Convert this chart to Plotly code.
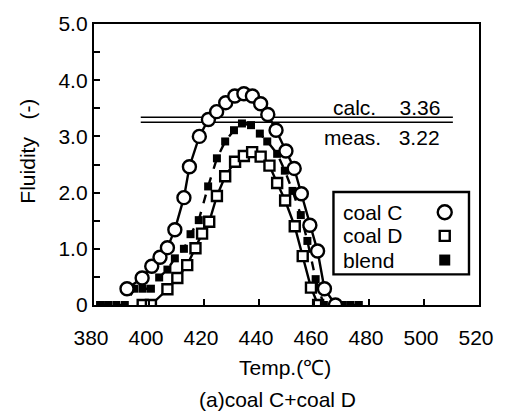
import plotly.graph_objects as go

# ---- data ----
coalC_x = [392.0, 397.5, 401.0, 404.0, 406.7, 409.4, 412.7, 414.7, 418.3, 421.6, 424.6, 427.9,
           431.2, 434.5, 437.6, 440.6, 443.2, 446.2, 449.8, 452.8, 455.4, 458.5, 461.3, 463.8, 467.8]
coalC_y = [0.29, 0.48, 0.69, 0.85, 1.02, 1.34, 1.91, 2.46, 3.00, 3.30, 3.44, 3.60,
           3.72, 3.76, 3.72, 3.58, 3.39, 3.11, 2.74, 2.43, 1.98, 1.42, 0.96, 0.29, 0.0]

coalD_x = [397.7, 400.7, 406.7, 410.3, 413.9, 416.9, 419.3, 421.9, 424.7, 427.7, 431.3,
           434.5, 437.5, 440.6, 443.8, 446.6, 449.5, 453.0, 455.9, 458.9, 461.5]
coalD_y = [0.0, 0.0, 0.28, 0.48, 0.71, 1.01, 1.27, 1.48, 1.94, 2.29, 2.55,
           2.65, 2.72, 2.64, 2.48, 2.17, 1.86, 1.40, 0.87, 0.31, 0.0]

blend_x = [382.2, 385.1, 388.1, 391.2, 394.7, 397.7, 400.7, 403.7, 406.7, 409.4, 412.7,
           415.1, 418.1, 421.5, 424.7, 427.7, 430.9, 433.8, 437.1, 440.3, 443.0, 446.6,
           449.4, 452.2, 455.2, 457.6, 460.6, 463.6, 467.0, 470.5, 473.3, 476.3]
blend_y = [0.0, 0.0, 0.0, 0.0, 0.29, 0.29, 0.29, 0.49, 0.63, 0.83, 1.00,
           1.26, 1.51, 2.11, 2.61, 2.91, 3.11, 3.23, 3.20, 3.05, 2.91, 2.69,
           2.39, 2.03, 1.60, 1.14, 0.46, 0.0, 0.0, 0.0, 0.0, 0.0]

ref_x = [397.0, 510.5]          # extent of the calc / meas lines
calc_level = 3.34                # drawn line level (label 3.36)
meas_level = 3.25                # drawn line level (label 3.22)
calc_label = "calc.\u00a0\u00a0\u00a0 3.36"
meas_label = "meas.\u00a0\u00a0 3.22"

x_ticks = [380, 400, 420, 440, 460, 480, 500, 520]
y_ticks = [0, 1, 2, 3, 4, 5]
y_ticktext = ["0", "1.0", "2.0", "3.0", "4.0", "5.0"]

legend_names = ["coal C", "coal D", "blend"]
legend_y = [0.330, 0.246, 0.160]

FONT = "Liberation Sans, Arial, sans-serif"
FS = 21

fig = go.Figure()

# reference lines
fig.add_trace(go.Scatter(x=ref_x, y=[calc_level, calc_level], mode="lines",
                         line=dict(color="black", width=1.5), showlegend=False, hoverinfo="skip"))
fig.add_trace(go.Scatter(x=ref_x, y=[meas_level, meas_level], mode="lines",
                         line=dict(color="black", width=1.5), showlegend=False, hoverinfo="skip"))

circle = dict(symbol="circle", size=13, color="white", line=dict(color="black", width=2.4))
osq = dict(symbol="square", size=10, color="white", line=dict(color="black", width=2.4))
fsq = dict(symbol="square", size=8, color="black", line=dict(color="black", width=0))

fig.add_trace(go.Scatter(x=coalD_x, y=coalD_y, mode="lines+markers", name="coal D",
                         line=dict(color="black", width=2.4), marker=osq, showlegend=False))
fig.add_trace(go.Scatter(x=blend_x, y=blend_y, mode="lines+markers", name="blend",
                         line=dict(color="black", width=2.4, dash="dash"), marker=fsq, showlegend=False))
fig.add_trace(go.Scatter(x=coalC_x, y=coalC_y, mode="lines+markers", name="coal C",
                         line=dict(color="black", width=2.4), marker=circle, showlegend=False))

# manual legend markers on an overlay axis in [0,1] units
leg_markers = [dict(symbol="circle", size=14, color="white", line=dict(color="black", width=2.4)),
               dict(symbol="square", size=10, color="white", line=dict(color="black", width=2.4)),
               dict(symbol="square", size=11, color="black")]
for yy, mk in zip(legend_y, leg_markers):
    fig.add_trace(go.Scatter(x=[0.911], y=[yy], mode="markers", marker=mk,
                             xaxis="x2", yaxis="y2", showlegend=False, hoverinfo="skip"))

fig.add_shape(type="rect", xref="paper", yref="paper", x0=0.622, x1=0.974, y0=0.109, y1=0.402,
              line=dict(color="black", width=2.4), fillcolor="rgba(0,0,0,0)")

for name, yy in zip(legend_names, legend_y):
    fig.add_annotation(text=name, xref="paper", yref="paper", x=0.641, y=yy,
                       xanchor="left", yanchor="middle", showarrow=False,
                       font=dict(family=FONT, size=FS, color="black"))

fig.add_annotation(text=calc_label, xref="paper", yref="paper", x=0.904, y=0.702,
                   xanchor="right", yanchor="middle", showarrow=False,
                   font=dict(family=FONT, size=FS, color="black"))
fig.add_annotation(text=meas_label, xref="paper", yref="paper", x=0.904, y=0.596,
                   xanchor="right", yanchor="middle", showarrow=False,
                   font=dict(family=FONT, size=FS, color="black"))

fig.add_annotation(text="Temp.(\u2103)", xref="paper", yref="paper", x=0.497, y=-0.222,
                   xanchor="center", yanchor="middle", showarrow=False,
                   font=dict(family=FONT, size=FS, color="black"))
fig.add_annotation(text="(a)coal C+coal D", xref="paper", yref="paper", x=0.477, y=-0.335,
                   xanchor="center", yanchor="middle", showarrow=False,
                   font=dict(family=FONT, size=FS, color="black"))
fig.add_annotation(text="Fluidity\u00a0\u00a0\u00a0(-)", xref="paper", yref="paper", x=-0.175, y=0.548,
                   xanchor="center", yanchor="middle", showarrow=False, textangle=-90,
                   font=dict(family=FONT, size=FS, color="black"))

fig.update_layout(
    width=506, height=412,
    margin=dict(l=94, r=22, t=13, b=107),
    paper_bgcolor="white", plot_bgcolor="white",
    font=dict(family=FONT, size=FS, color="black"),
    xaxis=dict(range=[380, 520], tickvals=x_ticks, ticks="inside", ticklen=6, tickwidth=2,
               tickcolor="black", showline=True, linecolor="black", linewidth=2.4, mirror=True,
               showgrid=False, zeroline=False, ticklabelstandoff=13, ticklabelshift=-3,
               tickfont=dict(family=FONT, size=FS)),
    yaxis=dict(range=[0, 5], tickvals=y_ticks, ticktext=y_ticktext, ticks="inside", ticklen=6,
               tickwidth=2, tickcolor="black", showline=True, linecolor="black", linewidth=2.4,
               mirror=True, showgrid=False, zeroline=False,
               minor=dict(dtick=0.5, ticks="inside", ticklen=6, tickwidth=2, tickcolor="black"),
               tickfont=dict(family=FONT, size=FS)),
    xaxis2=dict(range=[0, 1], overlaying="x", visible=False),
    yaxis2=dict(range=[0, 1], overlaying="y", visible=False),
    showlegend=False,
)

fig.write_html("out.html")
